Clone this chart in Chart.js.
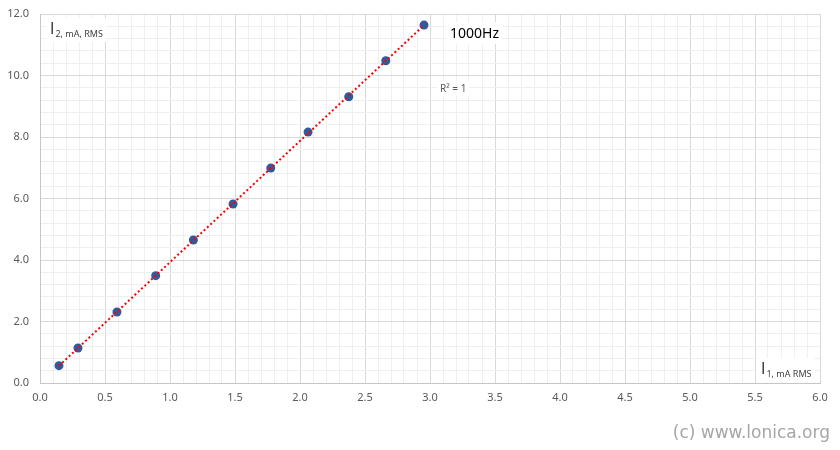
<!DOCTYPE html>
<html><head><meta charset="utf-8">
<script src="https://cdn.jsdelivr.net/npm/chart.js@4/dist/chart.umd.min.js"></script>
<style>html,body{margin:0;padding:0;background:#fff}#wrap{width:840px;height:450px;position:relative}</style>
</head><body><div id="wrap"><canvas id="c" width="840" height="450"></canvas></div>
<script>
// Data
const i1Values = [0.146, 0.292, 0.592, 0.89, 1.18, 1.485, 1.775, 2.062, 2.375, 2.66, 2.954];
const i2Values = [0.563, 1.138, 2.309, 3.49, 4.65, 5.82, 6.99, 8.16, 9.31, 10.48, 11.64];
const xMajorLabels = ['0.0','0.5','1.0','1.5','2.0','2.5','3.0','3.5','4.0','4.5','5.0','5.5','6.0'];
const yMajorLabels = ['0.0','2.0','4.0','6.0','8.0','10.0','12.0'];
const titleText = '1000Hz';
const r2Text = 'R\u00B2 = 1';
const yAxisName = ['I', '2, mA, RMS'];
const xAxisName = ['I', '1, mA RMS'];
const watermark = '(c) www.lonica.org';

// Linear trendline (least squares) computed from data
const n = i1Values.length;
const mx = i1Values.reduce((a,b)=>a+b,0)/n, my = i2Values.reduce((a,b)=>a+b,0)/n;
let sxy=0, sxx=0;
for (let i=0;i<n;i++){ sxy += (i1Values[i]-mx)*(i2Values[i]-my); sxx += (i1Values[i]-mx)**2; }
const slope = sxy/sxx, intercept = my - slope*mx;
const xMin = Math.min(...i1Values), xMax = Math.max(...i1Values);
const trend = [{x:xMin, y:intercept+slope*xMin},{x:xMax, y:intercept+slope*xMax}];
const points = i1Values.map((x,i)=>({x, y:i2Values[i]}));

const FONT = '"Noto Sans", sans-serif';
const BIGFONT = '"Noto Sans", "Liberation Sans", sans-serif';

const labelsPlugin = {
  id: 'labels',
  afterDraw(chart) {
    const ctx = chart.ctx, a = chart.chartArea;
    ctx.save();
    function subLabel(parts, x, y) {
      ctx.font = '16px "Liberation Sans", sans-serif';
      const w1 = ctx.measureText(parts[0]).width;
      ctx.font = '9px ' + FONT;
      const w2 = ctx.measureText(parts[1]).width;
      ctx.fillStyle = '#ffffff';
      ctx.fillRect(x - 4, y - 16, w1 + w2 + 8, 24);
      ctx.fillStyle = '#404040';
      ctx.textBaseline = 'alphabetic';
      ctx.textAlign = 'left';
      ctx.font = '16px "Liberation Sans", sans-serif';
      ctx.fillText(parts[0], x, y);
      ctx.font = '9px ' + FONT;
      ctx.fillText(parts[1], x + w1 + 1, y + 3);
    }
    subLabel(yAxisName, a.left + 10, a.top + 20);
    subLabel(xAxisName, a.left + 721, a.bottom - 9);

    // 1000Hz title
    ctx.font = '14px ' + FONT;
    const tw = ctx.measureText(titleText).width;
    ctx.fillStyle = '#ffffff';
    ctx.fillRect(a.left + 406, a.top + 8, tw + 8, 22);
    ctx.fillStyle = '#000000';
    ctx.textBaseline = 'alphabetic';
    ctx.fillText(titleText, a.left + 410, a.top + 24);

    // R^2
    ctx.font = '10px ' + FONT;
    const rw = ctx.measureText(r2Text).width;
    ctx.fillStyle = '#ffffff';
    ctx.fillRect(a.left + 397, a.top + 67, rw + 6, 15);
    ctx.fillStyle = '#595959';
    ctx.fillText(r2Text, a.left + 400, a.top + 78);

    // watermark
    ctx.font = '17px "DejaVu Sans", sans-serif';
    ctx.fillStyle = '#a6a6a6';
    ctx.textAlign = 'right';
    ctx.fillText(watermark, 830, 438);
    ctx.restore();
  }
};

new Chart(document.getElementById('c'), {
  type: 'scatter',
  data: {
    datasets: [
      {
        label: 'trend',
        type: 'line',
        data: trend,
        showLine: true,
        borderColor: '#ff0000',
        borderWidth: 2,
        borderDash: [2, 2.5],
        pointRadius: 0,
        fill: false,
        order: 0
      },
      {
        label: 'I2',
        data: points,
        pointRadius: 4.5,
        pointBackgroundColor: '#34589c',
        pointBorderColor: '#34589c',
        pointBorderWidth: 0,
        showLine: false,
        order: 1
      }
    ]
  },
  options: {
    responsive: false,
    animation: false,
    devicePixelRatio: 1,
    layout: { padding: { top: 14, right: 20, left: 0, bottom: 0 } },
    plugins: { legend: { display: false }, tooltip: { enabled: false } },
    scales: {
      x: {
        type: 'linear',
        min: 0, max: 6,
        afterFit(s) { s.height = 67; s.paddingLeft = 0; s.paddingRight = 0; },
        ticks: {
          stepSize: 0.1,
          autoSkip: false,
          maxRotation: 0,
          maxTicksLimit: 100,
          padding: 8,
          color: '#595959',
          font: { family: FONT, size: 11 },
          callback(v) {
            const k = Math.round(v * 10);
            return k % 5 === 0 ? xMajorLabels[k / 5] : '';
          }
        },
        grid: {
          drawTicks: false,
          color(c) { const k = Math.round(c.tick.value * 10); return k % 5 === 0 ? '#d9d9d9' : '#efefef'; },
          lineWidth: 1
        },
        border: { color: '#c6c6c6' }
      },
      y: {
        type: 'linear',
        min: 0, max: 12,
        afterFit(s) { s.width = 40; s.paddingTop = 0; s.paddingBottom = 0; },
        ticks: {
          stepSize: 0.4,
          autoSkip: false,
          maxTicksLimit: 100,
          padding: 11,
          color: '#595959',
          font: { family: FONT, size: 11 },
          callback(v) {
            const k = Math.round(v * 10);
            return k % 20 === 0 ? yMajorLabels[k / 20] : '';
          }
        },
        grid: {
          drawTicks: false,
          color(c) { const k = Math.round(c.tick.value * 10); return k % 20 === 0 ? '#d9d9d9' : '#efefef'; },
          lineWidth: 1
        },
        border: { color: '#c6c6c6' }
      }
    }
  },
  plugins: [labelsPlugin]
});
</script>
</body></html>
